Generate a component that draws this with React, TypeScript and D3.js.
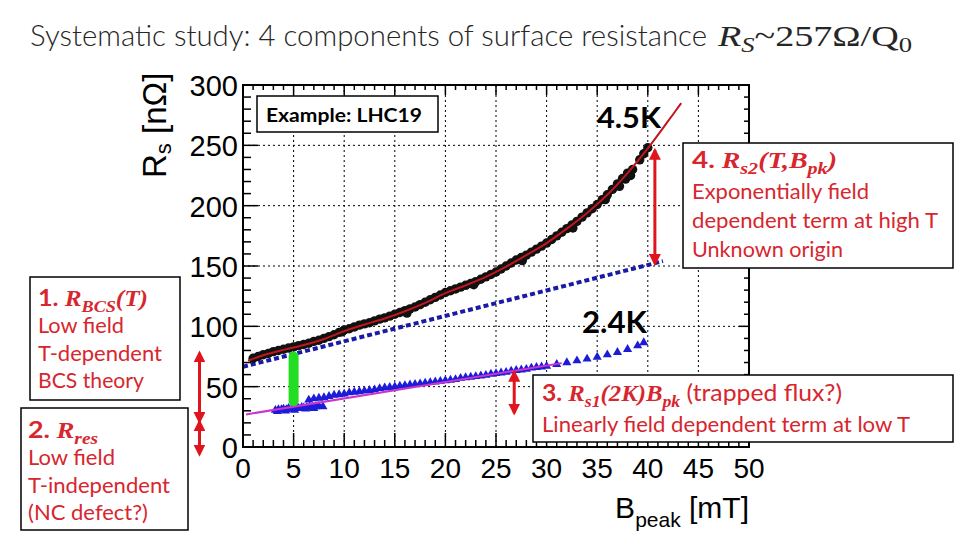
import { useRef, useEffect } from "react";
import * as d3 from "d3";

const width = 960;
const height = 540;
const frame = { left: 243, right: 749, top: 85, bottom: 447 };

const xMajorTicks = [0, 5, 10, 15, 20, 25, 30, 35, 40, 45, 50];
const yMajorTicks = [0, 50, 100, 150, 200, 250, 300];

// LHC19 at 4.5K: Bpeak [mT], Rs [nOhm]
const run45K = [
  [1.0, 73.5], [1.5, 75], [2.0, 76.5], [2.5, 77.5], [3.0, 79], [3.5, 80],
  [4.0, 81], [4.5, 82], [5.0, 83], [5.5, 84], [6.0, 85], [6.5, 86],
  [7.0, 87.5], [7.5, 88.5], [8.0, 90], [8.5, 91.5], [9.0, 93], [9.5, 95],
  [10.0, 97], [10.5, 98], [11.0, 99.5], [11.5, 101], [12.0, 102], [12.5, 103],
  [13.0, 104.5], [13.5, 106], [14.0, 107], [14.5, 108.5], [15.0, 110], [15.5, 111.5],
  [16.0, 113], [16.5, 114.5], [17.0, 116], [17.5, 118], [18.0, 120], [18.5, 122],
  [19.0, 124], [19.5, 126], [20.0, 128], [20.5, 129.5], [21.0, 131], [21.5, 132.5],
  [22.0, 134], [22.5, 135.5], [23.0, 137], [23.5, 139], [24.0, 141], [24.5, 143],
  [25.0, 145], [25.5, 147.5], [26.0, 150], [26.5, 152.5], [27.0, 155], [27.5, 157],
  [28.0, 159], [28.5, 161.5], [29.0, 164], [29.5, 166.5], [30.0, 169], [30.5, 172],
  [31.0, 175], [31.5, 178], [32.0, 181], [32.5, 184], [33.0, 187], [33.5, 190.5],
  [34.0, 194], [34.5, 197.5], [35.0, 201], [35.5, 205], [36.0, 209], [36.5, 213.5],
  [37.0, 218], [37.5, 222.5], [38.0, 227], [38.5, 230], [39.2, 238], [39.6, 243],
  [40.0, 248],
  // scattered second track
  [9.8, 95.5], [16.2, 111], [22.8, 134.5], [27.6, 154.5], [32.6, 181.5],
  [35.8, 205], [37.2, 216], [37.8, 222], [38.3, 225],
];

const fit45K = [
  [0.5, 71.5], [2, 76], [4, 80.5], [6, 84.5], [8, 89.5], [10, 96], [12, 101.5],
  [14, 106.5], [16, 112.5], [18, 119.5], [20, 127.5], [22, 134], [24, 141],
  [26, 149.5], [28, 159], [30, 169], [32, 181], [34, 194], [36, 209], [38, 227],
  [40, 247.5], [42, 270], [43.3, 285],
];

// BCS + residual (low field) line
const bcsResLine = [[0, 66.5], [41.5, 154]];

// LHC19 at 2.4K
const run24K = [
  [6.5, 39], [7, 40], [7.5, 40.5], [8, 41], [8.5, 42], [9, 43], [9.5, 43.5],
  [10, 44], [10.5, 45], [11, 45.5], [11.5, 46], [12, 46.5], [12.5, 47], [13, 47.5],
  [13.5, 48.5], [14, 49], [14.5, 49.5], [15, 50], [15.5, 50.5], [16, 51], [16.5, 51.5],
  [17, 52], [17.5, 52.5], [18, 53], [18.5, 53.5], [19, 54], [19.5, 54.5], [20, 55],
  [20.5, 55.5], [21, 56], [21.5, 57], [22, 57.5], [22.5, 58], [23, 58.5], [23.5, 59],
  [24, 59.5], [24.5, 60.5], [25, 61], [25.5, 61.5], [26, 62], [26.5, 63], [27, 63.5],
  [27.5, 64], [28, 64.5], [28.5, 65.5], [29, 66], [29.5, 66.5], [30, 67], [31, 68.5],
  [32, 70], [33, 71.5], [34, 73], [35, 74.5], [36, 76.5], [37, 78.5], [38, 81],
  [39, 84], [39.6, 86.5],
];
const run24KLow = [
  [3.2, 30.5], [3.5, 31], [3.8, 31], [4.0, 31.5], [4.3, 31], [4.5, 32], [4.8, 31.5],
  [5.0, 32], [5.3, 32.5], [5.5, 32], [5.8, 33], [6.0, 32.5], [6.3, 33], [6.6, 33.5],
  [6.9, 33], [7.2, 33.5], [7.5, 34], [7.9, 33.5], [3.4, 29.5], [4.2, 30], [5.1, 30.5],
  [6.2, 31.5], [7.0, 32],
];
const linearFit24K = [[0.3, 27], [31.5, 69.5]];

const greenBar = [[5, 38], [5, 75]];

// double arrows (x in mT, y in nOhm)
const arrowRs2 = [[40.7, 246], [40.7, 152]];
const arrowRs1 = [[26.8, 62], [26.8, 28]];
const arrowBcs = [[-4.3, 78], [-4.3, 21]];
const arrowRes = [[-4.3, 21], [-4.3, -6]];

const SANS = "Lato, 'Open Sans', sans-serif";
const ARIAL = "'Liberation Sans', Arial, sans-serif";
const SERIF = "'Liberation Serif', 'DejaVu Serif', serif";
const RED = "#d7262e";

type Seg = { t: string; math?: boolean; sub?: boolean; bold?: boolean };

function richText(g: any, x: number, y: number, segs: Seg[], size: number, color: string, len?: number) {
  const text = g
    .append("text")
    .attr("x", x)
    .attr("y", y)
    .attr("font-size", size)
    .attr("fill", color)
    .style("white-space", "pre");
  if (len) text.attr("textLength", len).attr("lengthAdjust", "spacingAndGlyphs");
  let shifted = false;
  segs.forEach((s) => {
    const ts = text.append("tspan").text(s.t);
    if (s.math) {
      ts.attr("font-family", SERIF).attr("font-style", "italic").attr("font-weight", "bold");
    } else {
      ts.attr("font-family", SANS).attr("font-weight", s.bold ? "bold" : "normal");
    }
    if (s.sub) ts.attr("font-size", size * 0.72);
    if (s.sub && !shifted) {
      ts.attr("dy", size * 0.25);
      shifted = true;
    } else if (!s.sub && shifted) {
      ts.attr("dy", -size * 0.25);
      shifted = false;
    }
  });
}

function box(g: any, x: number, y: number, w: number, h: number) {
  g.append("rect")
    .attr("x", x)
    .attr("y", y)
    .attr("width", w)
    .attr("height", h)
    .attr("fill", "#fff")
    .attr("stroke", "#000")
    .attr("stroke-width", 1.5);
}

const App = () => {
  const svgRef = useRef<SVGSVGElement>(null);

  useEffect(() => {
    const svg = d3.select(svgRef.current);
    svg.selectAll("*").remove();

    svg.append("rect").attr("width", width).attr("height", height).attr("fill", "#fff");

    const x = d3.scaleLinear().domain([0, 50]).range([frame.left, frame.right]);
    const y = d3.scaleLinear().domain([0, 300]).range([frame.bottom, frame.top]);

    // title
    svg
      .append("text")
      .attr("x", 30)
      .attr("y", 46)
      .attr("font-family", SANS)
      .attr("font-weight", 300)
      .attr("font-size", 30)
      .attr("fill", "#262626")
      .attr("textLength", 677)
      .attr("lengthAdjust", "spacingAndGlyphs")
      .text("Systematic study: 4 components of surface resistance");
    const f = svg
      .append("text")
      .attr("x", 718)
      .attr("y", 46)
      .attr("font-family", SERIF)
      .attr("font-size", 30)
      .attr("fill", "#262626")
      .attr("textLength", 194)
      .attr("lengthAdjust", "spacingAndGlyphs");
    f.append("tspan").attr("font-style", "italic").text("R");
    f.append("tspan").attr("font-style", "italic").attr("font-size", 21).attr("dy", 6).text("S");
    f.append("tspan").attr("dy", -6).text("~257Ω/Q");
    f.append("tspan").attr("font-size", 21).attr("dy", 6).text("0");

    // grid
    const grid = svg.append("g").attr("stroke", "#000").attr("stroke-width", 1).attr("stroke-dasharray", "2,3");
    grid
      .selectAll("line.gx")
      .data(xMajorTicks.slice(1, -1))
      .enter()
      .append("line")
      .attr("x1", (d) => x(d))
      .attr("x2", (d) => x(d))
      .attr("y1", frame.top)
      .attr("y2", frame.bottom);
    grid
      .selectAll("line.gy")
      .data(yMajorTicks.slice(1, -1))
      .enter()
      .append("line")
      .attr("x1", frame.left)
      .attr("x2", frame.right)
      .attr("y1", (d) => y(d))
      .attr("y2", (d) => y(d));

    // ticks on all four sides, pointing inward
    const ticks = svg.append("g").attr("stroke", "#000").attr("stroke-width", 1.5);
    const xMinor = d3.range(0, 51, 1);
    const yMinor = d3.range(0, 301, 10);
    xMinor.forEach((v) => {
      const major = v % 5 === 0;
      ticks.append("line").attr("x1", x(v)).attr("x2", x(v)).attr("y1", frame.bottom).attr("y2", frame.bottom - (major ? 14 : 7));
      ticks.append("line").attr("x1", x(v)).attr("x2", x(v)).attr("y1", frame.top).attr("y2", frame.top + (major ? 10 : 5));
    });
    yMinor.forEach((v) => {
      const major = v % 50 === 0;
      ticks.append("line").attr("x1", frame.left).attr("x2", frame.left + (major ? 15 : 8)).attr("y1", y(v)).attr("y2", y(v));
      ticks.append("line").attr("x1", frame.right).attr("x2", frame.right - (major ? 10 : 5)).attr("y1", y(v)).attr("y2", y(v));
    });

    // tick labels
    svg
      .append("g")
      .selectAll("text")
      .data(xMajorTicks)
      .enter()
      .append("text")
      .attr("x", (d) => x(d))
      .attr("y", 478)
      .attr("text-anchor", "middle")
      .attr("font-family", ARIAL)
      .attr("font-size", 28)
      .text((d) => d);
    svg
      .append("g")
      .selectAll("text")
      .data(yMajorTicks)
      .enter()
      .append("text")
      .attr("x", 238)
      .attr("y", (d) => y(d) + 11)
      .attr("text-anchor", "end")
      .attr("font-family", ARIAL)
      .attr("font-size", 29)
      .text((d) => d);

    // axis titles
    const yt = svg
      .append("text")
      .attr("transform", "translate(166,178) rotate(-90)")
      .attr("font-family", ARIAL)
      .attr("font-size", 33);
    yt.append("tspan").text("R");
    yt.append("tspan").attr("font-size", 22).attr("dy", 5).text("s");
    yt.append("tspan").attr("dy", -5).text(" [nΩ]");

    const xt = svg
      .append("text")
      .attr("x", 749)
      .attr("y", 518)
      .attr("text-anchor", "end")
      .attr("font-family", ARIAL)
      .attr("font-size", 30);
    xt.append("tspan").text("B");
    xt.append("tspan").attr("font-size", 21).attr("dy", 9).text("peak");
    xt.append("tspan").attr("dy", -9).text(" [mT]");

    const line = d3
      .line<number[]>()
      .x((d) => x(d[0]))
      .y((d) => y(d[1]));

    // BCS + residual dotted line
    svg
      .append("path")
      .attr("d", line(bcsResLine))
      .attr("fill", "none")
      .attr("stroke", "#1a1aa6")
      .attr("stroke-width", 4)
      .attr("stroke-dasharray", "5,3");

    // 4.5K data
    svg
      .append("g")
      .selectAll("circle")
      .data(run45K)
      .enter()
      .append("circle")
      .attr("cx", (d) => x(d[0]))
      .attr("cy", (d) => y(d[1]))
      .attr("r", 4.7)
      .attr("fill", "#111");

    svg
      .append("path")
      .attr("d", line.curve(d3.curveCatmullRom)(fit45K))
      .attr("fill", "none")
      .attr("stroke", "#c0161e")
      .attr("stroke-width", 2);
    line.curve(d3.curveLinear);

    // 2.4K data
    const tri = d3.symbol().type(d3.symbolTriangle).size(36);
    svg
      .append("g")
      .selectAll("path")
      .data(run24KLow.concat(run24K))
      .enter()
      .append("path")
      .attr("d", tri)
      .attr("transform", (d) => `translate(${x(d[0])},${y(d[1])})`)
      .attr("fill", "#1c1cd8");

    svg
      .append("path")
      .attr("d", line(linearFit24K))
      .attr("fill", "none")
      .attr("stroke", "#cc33cc")
      .attr("stroke-width", 2);

    // green bar (residual at 5 mT)
    svg
      .append("path")
      .attr("d", line(greenBar))
      .attr("stroke", "#22dd22")
      .attr("stroke-width", 10)
      .attr("stroke-linecap", "round");

    // arrows
    const defs = svg.append("defs");
    defs
      .append("marker")
      .attr("id", "head")
      .attr("viewBox", "0 0 10 10")
      .attr("refX", 8)
      .attr("refY", 5)
      .attr("markerWidth", 4)
      .attr("markerHeight", 4)
      .attr("orient", "auto-start-reverse")
      .append("path")
      .attr("d", "M0,0 L10,5 L0,10 z")
      .attr("fill", "#e0141c");
    [arrowRs2, arrowRs1, arrowBcs, arrowRes].forEach((a) => {
      svg
        .append("path")
        .attr("d", line(a))
        .attr("stroke", "#e0141c")
        .attr("stroke-width", 3)
        .attr("marker-start", "url(#head)")
        .attr("marker-end", "url(#head)");
    });

    // frame
    svg
      .append("rect")
      .attr("x", frame.left)
      .attr("y", frame.top)
      .attr("width", frame.right - frame.left)
      .attr("height", frame.bottom - frame.top)
      .attr("fill", "none")
      .attr("stroke", "#000")
      .attr("stroke-width", 2);

    // temperature labels
    svg
      .append("text")
      .attr("x", 597)
      .attr("y", 128)
      .attr("font-family", SANS)
      .attr("font-weight", "bold")
      .attr("font-size", 29)
      .attr("textLength", 64)
      .attr("lengthAdjust", "spacingAndGlyphs")
      .text("4.5K");
    svg
      .append("text")
      .attr("x", 582)
      .attr("y", 333)
      .attr("font-family", SANS)
      .attr("font-weight", "bold")
      .attr("font-size", 30)
      .attr("textLength", 65)
      .attr("lengthAdjust", "spacingAndGlyphs")
      .text("2.4K");

    // example label
    const ann = svg.append("g");
    box(ann, 257, 96, 181, 36);
    ann
      .append("text")
      .attr("x", 266)
      .attr("y", 122)
      .attr("font-family", SANS)
      .attr("font-weight", "bold")
      .attr("font-size", 19)
      .attr("textLength", 156)
      .attr("lengthAdjust", "spacingAndGlyphs")
      .text("Example: LHC19");

    // 4. Rs2
    box(ann, 683, 143, 270, 125);
    richText(ann, 692, 168, [
      { t: "4. ", bold: true },
      { t: "R", math: true },
      { t: "s2", math: true, sub: true },
      { t: "(T,B", math: true },
      { t: "pk", math: true, sub: true },
      { t: ")", math: true },
    ], 23, RED, 145);
    richText(ann, 692, 199, [{ t: "Exponentially field" }], 22, RED, 177);
    richText(ann, 692, 228, [{ t: "dependent term at high T" }], 22, RED, 246);
    richText(ann, 692, 257, [{ t: "Unknown origin" }], 22, RED, 151);

    // 1. RBCS
    box(ann, 30, 277, 150, 123);
    richText(ann, 38, 306, [
      { t: "1. ", bold: true },
      { t: "R", math: true },
      { t: "BCS", math: true, sub: true },
      { t: "(T)", math: true },
    ], 23, RED, 110);
    richText(ann, 38, 333, [{ t: "Low field" }], 22, RED, 86);
    richText(ann, 38, 361, [{ t: "T-dependent" }], 22, RED, 124);
    richText(ann, 38, 388, [{ t: "BCS theory" }], 22, RED, 106);

    // 2. Rres
    box(ann, 21, 408, 167, 122);
    richText(ann, 28, 438, [
      { t: "2. ", bold: true },
      { t: "R", math: true },
      { t: "res", math: true, sub: true },
    ], 23, RED, 70);
    richText(ann, 28, 465, [{ t: "Low field" }], 22, RED, 87);
    richText(ann, 28, 493, [{ t: "T-independent" }], 22, RED, 142);
    richText(ann, 28, 520, [{ t: "(NC defect?)" }], 22, RED, 120);

    // 3. Rs1
    box(ann, 533, 375, 420, 67);
    richText(ann, 542, 401, [
      { t: "3. ", bold: true },
      { t: "R", math: true },
      { t: "s1", math: true, sub: true },
      { t: "(2K)B", math: true },
      { t: "pk", math: true, sub: true },
      { t: " (trapped flux?)" },
    ], 23, RED, 300);
    richText(ann, 542, 432, [{ t: "Linearly field dependent term at low T" }], 22, RED, 368);
  }, []);

  return (
    <svg
      ref={svgRef}
      width={width}
      height={height}
      style={{ position: "absolute", left: 0, top: 0 }}
    ></svg>
  );
};

export default App;
